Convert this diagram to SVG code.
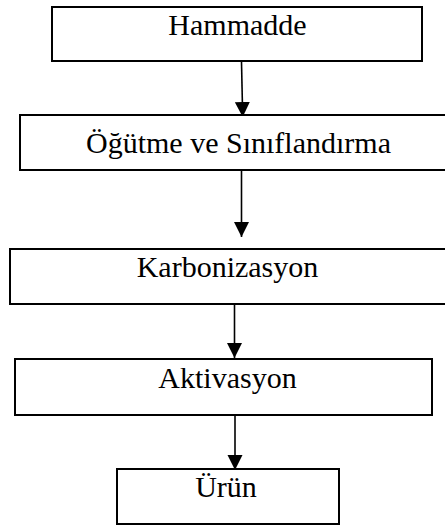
<svg xmlns="http://www.w3.org/2000/svg" width="445" height="525" viewBox="0 0 445 525">
<style>
.box{fill:#fff;stroke:#000;stroke-width:2}
.lbl{font-family:"Liberation Serif","Times New Roman",serif;font-size:30px;fill:#000;text-anchor:middle}
.conn{stroke:#000;stroke-width:1.6;fill:none}
</style>
<defs>
<marker id="ah" markerUnits="userSpaceOnUse" markerWidth="16" markerHeight="16" viewBox="0 0 16 16" refX="15" refY="8" orient="auto">
<path d="M0,0.5 L15,8 L0,15.5 Z" fill="#000"/>
</marker>
</defs>
<rect width="445" height="525" fill="#fff"/>
<g id="connectors">
<line class="conn" x1="241.5" y1="62" x2="242.7" y2="117" marker-end="url(#ah)"/>
<line class="conn" x1="241.5" y1="171" x2="241.5" y2="237" marker-end="url(#ah)"/>
<line class="conn" x1="234.5" y1="305" x2="234.5" y2="358" marker-end="url(#ah)"/>
<line class="conn" x1="235" y1="416" x2="235" y2="470" marker-end="url(#ah)"/>
</g>
<g id="n1"><rect class="box" x="52" y="7" width="370" height="54"/><text class="lbl" x="237.5" y="35">Hammadde</text></g>
<g id="n2"><rect class="box" x="20" y="115" width="430" height="55"/><text class="lbl" x="238.5" y="153">Öğütme ve Sınıflandırma</text></g>
<g id="n3"><rect class="box" x="10" y="249" width="440" height="55"/><text class="lbl" x="227.5" y="277">Karbonizasyon</text></g>
<g id="n4"><rect class="box" x="15" y="359" width="417" height="56"/><text class="lbl" x="227.5" y="388">Aktivasyon</text></g>
<g id="n5"><rect class="box" x="117" y="469" width="222" height="55"/><text class="lbl" x="226" y="497">Ürün</text></g>
</svg>
